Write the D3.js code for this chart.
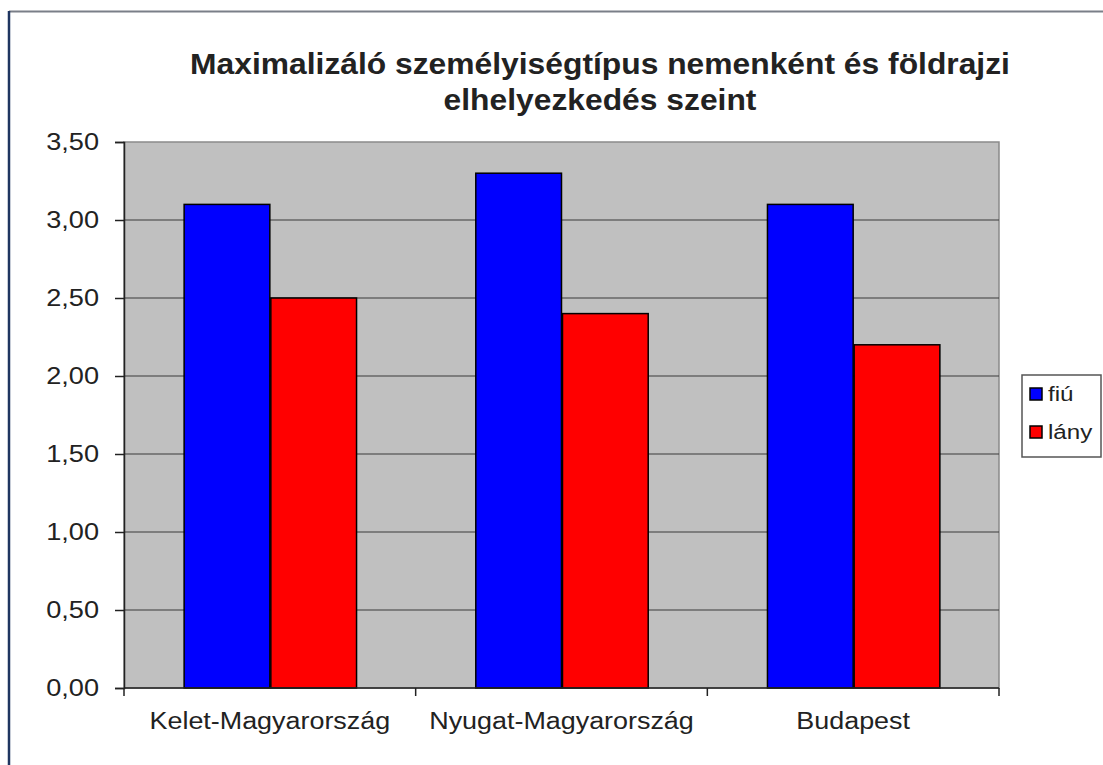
<!DOCTYPE html>
<html>
<head>
<meta charset="utf-8">
<script src="https://cdn.jsdelivr.net/npm/d3@7"></script>
<style>
  body { margin: 0; background: #fff; }
  text { font-family: Arial, "Liberation Sans", sans-serif; fill: #222; }
</style>
</head>
<body>
<svg id="chart" width="1103" height="765"></svg>
<script>
var categories = ["Kelet-Magyarország", "Nyugat-Magyarország", "Budapest"];
var seriesNames = ["fiú", "lány"];
var fiu = [3.1, 3.3, 3.1];
var lany = [2.5, 2.4, 2.2];
var seriesColors = ["#0000ff", "#ff0000"];
var yTicks = [0, 0.5, 1, 1.5, 2, 2.5, 3, 3.5];
var titleLines = ["Maximalizáló személyiségtípus nemenként és földrajzi", "elhelyezkedés szeint"];

// the original picture is stretched sideways, so text gets a horizontal scale
var stretch = 1.17;

var svg = d3.select("#chart");

// outer chart frame (only the top and left edges show)
svg.append("line").attr("x1", 9).attr("x2", 1103).attr("y1", 11.5).attr("y2", 11.5)
  .attr("stroke", "#7a7f88").attr("stroke-width", 2);
svg.append("line").attr("x1", 9).attr("x2", 9).attr("y1", 11).attr("y2", 765)
  .attr("stroke", "#1f3560").attr("stroke-width", 2.5);

var plot = {left: 124, top: 142, right: 999, bottom: 688};

var x0 = d3.scaleBand().domain(categories).range([plot.left, plot.right]).paddingInner(0).paddingOuter(0);
var x1 = d3.scaleBand().domain(seriesNames).range([0, x0.bandwidth()]).paddingInner(0).paddingOuter(0.75 / 1.1);
var y = d3.scaleLinear().domain([0, 3.5]).range([plot.bottom, plot.top]);

// plot background
svg.append("rect")
  .attr("x", plot.left).attr("y", plot.top)
  .attr("width", plot.right - plot.left).attr("height", plot.bottom - plot.top)
  .attr("fill", "#c0c0c0").attr("stroke", "#8a8a8a").attr("stroke-width", 1.5);

// gridlines
svg.append("g").selectAll("line").data(yTicks.slice(1, -1)).enter()
  .append("line")
  .attr("x1", plot.left).attr("x2", plot.right)
  .attr("y1", function(d) { return y(d); }).attr("y2", function(d) { return y(d); })
  .attr("stroke", "#3a3a3a").attr("stroke-width", 1.2);

// bars
var rows = categories.map(function(c, i) { return {cat: c, values: [fiu[i], lany[i]]}; });
var groups = svg.append("g").selectAll("g").data(rows).enter()
  .append("g")
  .attr("transform", function(d) { return "translate(" + x0(d.cat) + ",0)"; });

groups.selectAll("rect").data(function(d) {
    return d.values.map(function(v, j) { return {name: seriesNames[j], value: v, color: seriesColors[j]}; });
  }).enter()
  .append("rect")
  .attr("x", function(d) { return x1(d.name) + 1; })
  .attr("width", x1.bandwidth() - 1)
  .attr("y", function(d) { return y(d.value); })
  .attr("height", function(d) { return y(0) - y(d.value); })
  .attr("fill", function(d) { return d.color; })
  .attr("stroke", "#000").attr("stroke-width", 1.5);

// y axis
var yAxis = d3.axisLeft(y).tickValues(yTicks).tickSize(9).tickPadding(16)
  .tickFormat(function(d) { return d3.format(".2f")(d).replace(".", ","); });
var gy = svg.append("g").attr("transform", "translate(" + plot.left + ",0)").call(yAxis);
gy.select(".domain").attr("stroke", "#222").attr("stroke-width", 1.5);
gy.selectAll(".tick line").attr("stroke", "#222").attr("stroke-width", 1.5);
gy.selectAll("text").attr("font-size", 23).attr("fill", "#222")
  .attr("x", -25 / 1.18).attr("transform", "scale(1.18,1)");

// x axis
var gx = svg.append("g").attr("transform", "translate(0," + plot.bottom + ")");
gx.append("line").attr("x1", plot.left).attr("x2", plot.right).attr("stroke", "#222").attr("stroke-width", 1.5);
gx.selectAll(".sep").data(categories.concat(["end"])).enter()
  .append("line")
  .attr("x1", function(d, i) { return plot.left + i * x0.bandwidth(); })
  .attr("x2", function(d, i) { return plot.left + i * x0.bandwidth(); })
  .attr("y1", 0).attr("y2", 8)
  .attr("stroke", "#222").attr("stroke-width", 1.5);
gx.selectAll(".lbl").data(categories).enter()
  .append("text")
  .attr("transform", function(d) {
    return "translate(" + (x0(d) + x0.bandwidth() / 2) + ",41) scale(" + stretch + ",1)";
  })
  .attr("text-anchor", "middle")
  .attr("font-size", 23)
  .text(function(d) { return d; });

// title
svg.append("g").selectAll("text").data(titleLines).enter()
  .append("text")
  .attr("transform", function(d, i) { return "translate(600," + (74 + i * 36) + ") scale(1.06,1)"; })
  .attr("text-anchor", "middle")
  .attr("font-size", 30)
  .attr("font-weight", "bold")
  .attr("fill", "#111")
  .text(function(d) { return d; });

// legend
var legend = svg.append("g").attr("transform", "translate(1022,375)");
legend.append("rect").attr("width", 79).attr("height", 82)
  .attr("fill", "#fff").attr("stroke", "#555").attr("stroke-width", 1.5);
var items = legend.selectAll(".item").data(seriesNames).enter()
  .append("g")
  .attr("transform", function(d, i) { return "translate(8," + (13 + i * 38) + ")"; });
items.append("rect").attr("width", 12).attr("height", 12)
  .attr("fill", function(d, i) { return seriesColors[i]; })
  .attr("stroke", "#000").attr("stroke-width", 1.5);
items.append("text")
  .attr("transform", "translate(18,13) scale(1.15,1)")
  .attr("font-size", 21)
  .text(function(d) { return d; });
</script>
</body>
</html>
